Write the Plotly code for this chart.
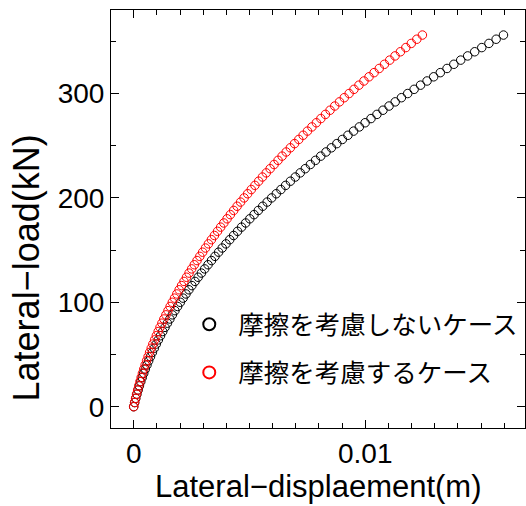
import plotly.graph_objects as go

# Lateral load steps (kN)
load_kN = [0, 4, 8, 12, 16, 20, 24, 28, 32, 36, 40, 44, 48, 52, 56, 60, 64, 68, 72, 76,
           80, 84, 88, 92, 96, 100, 104, 108, 112, 116, 120, 124, 128, 132, 136, 140, 144, 148, 152, 156,
           160, 164, 168, 172, 176, 180, 184, 188, 192, 196, 200, 204, 208, 212, 216, 220, 224, 228, 232, 236,
           240, 244, 248, 252, 256, 260, 264, 268, 272, 276, 280, 284, 288, 292, 296, 300, 304, 308, 312, 316,
           320, 324, 328, 332, 336, 340, 344, 348, 352, 356]

# Lateral displacement (m) without friction
disp_no_friction = [0, 0.000043, 0.000090, 0.000140, 0.000192, 0.000248, 0.000307, 0.000369, 0.000434, 0.000502,
                    0.000574, 0.000648, 0.000726, 0.000806, 0.000890, 0.000976, 0.001066, 0.001159, 0.001255, 0.001354,
                    0.001456, 0.001562, 0.001670, 0.001782, 0.001896, 0.002014, 0.002134, 0.002258, 0.002385, 0.002515,
                    0.002648, 0.002784, 0.002924, 0.003066, 0.003211, 0.003360, 0.003512, 0.003666, 0.003824, 0.003985,
                    0.004149, 0.004316, 0.004486, 0.004659, 0.004836, 0.005015, 0.005198, 0.005383, 0.005572, 0.005764,
                    0.005959, 0.006157, 0.006358, 0.006562, 0.006769, 0.006980, 0.007193, 0.007410, 0.007629, 0.007852,
                    0.008078, 0.008307, 0.008538, 0.008774, 0.009012, 0.009253, 0.009497, 0.009745, 0.009995, 0.010249,
                    0.010505, 0.010765, 0.011028, 0.011294, 0.011563, 0.011835, 0.012111, 0.012389, 0.012670, 0.012955,
                    0.013242, 0.013533, 0.013827, 0.014124, 0.014424, 0.014727, 0.015033, 0.015342, 0.015654, 0.015970]

# Lateral displacement (m) with friction
disp_friction = [0, 0.000039, 0.000081, 0.000124, 0.000170, 0.000219, 0.000269, 0.000322, 0.000377, 0.000435,
                 0.000495, 0.000557, 0.000621, 0.000688, 0.000757, 0.000828, 0.000902, 0.000978, 0.001056, 0.001136,
                 0.001219, 0.001304, 0.001391, 0.001481, 0.001573, 0.001667, 0.001764, 0.001862, 0.001963, 0.002067,
                 0.002172, 0.002280, 0.002391, 0.002503, 0.002618, 0.002735, 0.002855, 0.002977, 0.003101, 0.003227,
                 0.003356, 0.003486, 0.003620, 0.003755, 0.003893, 0.004033, 0.004175, 0.004320, 0.004467, 0.004616,
                 0.004768, 0.004922, 0.005078, 0.005236, 0.005397, 0.005560, 0.005726, 0.005893, 0.006063, 0.006235,
                 0.006410, 0.006587, 0.006766, 0.006947, 0.007131, 0.007317, 0.007505, 0.007696, 0.007889, 0.008084,
                 0.008281, 0.008481, 0.008683, 0.008887, 0.009094, 0.009303, 0.009514, 0.009728, 0.009944, 0.010162,
                 0.010382, 0.010605, 0.010830, 0.011057, 0.011287, 0.011519, 0.011753, 0.011989, 0.012228, 0.012469]

series_names = ["摩擦を考慮しないケース", "摩擦を考慮するケース"]
x_tick_vals = [0, 0.01]
x_tick_text = ["0", "0.01"]
y_tick_vals = [0, 100, 200, 300]
y_tick_text = ["0", "100", "200", "300"]

LATIN = "Liberation Sans, Arial, sans-serif"
CJK = "Noto Sans CJK JP, sans-serif"

fig = go.Figure()
fig.add_trace(go.Scatter(
    x=disp_no_friction, y=load_kN, mode="markers", name=series_names[0],
    legendgroup="a",
    marker=dict(symbol="circle-open", size=8.5, color="black", line=dict(width=1, color="black")),
))
fig.add_trace(go.Scatter(
    x=disp_friction, y=load_kN, mode="markers", name=series_names[1],
    legendgroup="b",
    marker=dict(symbol="circle-open", size=8.5, color="#ff0000", line=dict(width=1, color="#ff0000")),
))

axis_common = dict(
    showgrid=False, zeroline=False, showline=True, linecolor="black", linewidth=1,
    mirror="ticks", ticks="inside", ticklen=8, tickwidth=1, tickcolor="black",
    tickfont=dict(family=LATIN, size=28, color="black"),
)

fig.update_xaxes(
    range=[-0.00098, 0.0169], tickmode="array", tickvals=x_tick_vals, ticktext=x_tick_text,
    minor=dict(ticks="inside", ticklen=5, tickwidth=1, tickcolor="black", dtick=0.001, tick0=0, showgrid=False),
    **axis_common,
)
fig.update_yaxes(
    range=[-20.4, 380], tickmode="array", tickvals=y_tick_vals, ticktext=y_tick_text,
    minor=dict(ticks="inside", ticklen=5, tickwidth=1, tickcolor="black", dtick=50, tick0=0, showgrid=False),
    **axis_common,
)

fig.add_annotation(
    text="Lateral\u2212displaement(m)", xref="paper", yref="paper", x=0.5, y=-0.1864,
    xanchor="center", yanchor="bottom", showarrow=False,
    font=dict(family=LATIN, size=31, color="black"),
)
fig.add_annotation(
    text="Lateral\u2212load(kN)", xref="paper", yref="paper", x=-0.203, y=0.384,
    xanchor="center", yanchor="middle", showarrow=False, textangle=-90,
    font=dict(family=LATIN, size=36, color="black"),
)

fig.update_layout(
    width=526, height=506,
    margin=dict(l=111, r=1, t=10, b=78, autoexpand=False),
    plot_bgcolor="white", paper_bgcolor="white",
    showlegend=True,
    legend=dict(
        x=0.1673, y=0.3034, xanchor="left", yanchor="top",
        font=dict(family=CJK, size=25.5, color="black"),
        bgcolor="rgba(0,0,0,0)", borderwidth=0,
        itemsizing="constant", itemwidth=48, tracegroupgap=12, traceorder="grouped",
    ),
)

fig.write_html("out.html")
